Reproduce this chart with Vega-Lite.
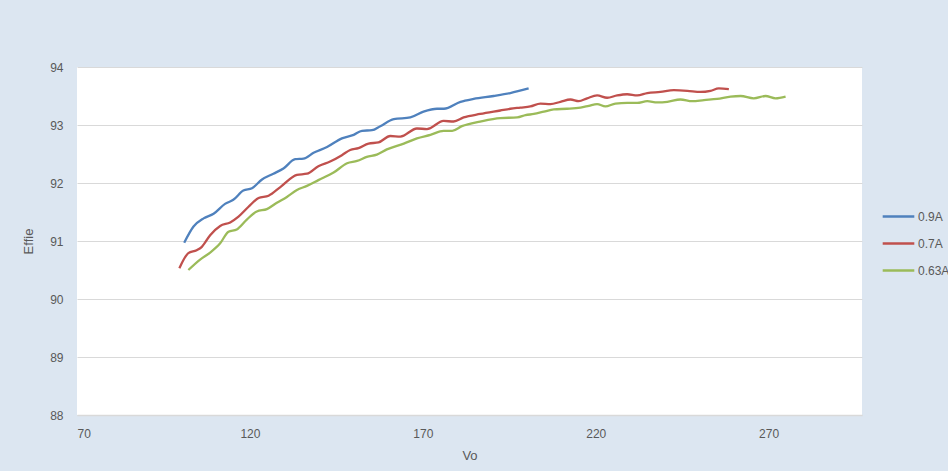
{
  "$schema": "https://vega.github.io/schema/vega-lite/v6.json",
  "width": 785,
  "height": 348,
  "autosize": "none",
  "padding": {"left": 77, "top": 67, "right": 86, "bottom": 56},
  "background": "#dce6f1",
  "view": {"fill": "white", "stroke": null},
  "config": {"font": "Liberation Sans"},
  "datasets": {
    "a09": [
      {"Vo": 101.0, "Effie": 90.97}, {"Vo": 103.7, "Effie": 91.25}, {"Vo": 106.6, "Effie": 91.39}, {"Vo": 109.5, "Effie": 91.47},
      {"Vo": 112.8, "Effie": 91.64}, {"Vo": 115.2, "Effie": 91.71}, {"Vo": 118.1, "Effie": 91.87}, {"Vo": 120.6, "Effie": 91.91},
      {"Vo": 123.5, "Effie": 92.06}, {"Vo": 126.8, "Effie": 92.16}, {"Vo": 129.7, "Effie": 92.25}, {"Vo": 133.1, "Effie": 92.41},
      {"Vo": 135.5, "Effie": 92.42}, {"Vo": 138.4, "Effie": 92.52}, {"Vo": 142.3, "Effie": 92.62}, {"Vo": 146.6, "Effie": 92.77},
      {"Vo": 150.0, "Effie": 92.83}, {"Vo": 152.4, "Effie": 92.90}, {"Vo": 155.3, "Effie": 92.91}, {"Vo": 157.7, "Effie": 92.98},
      {"Vo": 161.6, "Effie": 93.10}, {"Vo": 166.4, "Effie": 93.13}, {"Vo": 170.2, "Effie": 93.23}, {"Vo": 174.1, "Effie": 93.28},
      {"Vo": 176.1, "Effie": 93.28}, {"Vo": 180.9, "Effie": 93.40}, {"Vo": 184.7, "Effie": 93.45}, {"Vo": 190.5, "Effie": 93.50},
      {"Vo": 195.3, "Effie": 93.55}, {"Vo": 200.6, "Effie": 93.63}
    ],
    "a07": [
      {"Vo": 99.6, "Effie": 90.53}, {"Vo": 102.2, "Effie": 90.79}, {"Vo": 104.6, "Effie": 90.84}, {"Vo": 106.1, "Effie": 90.90},
      {"Vo": 108.5, "Effie": 91.10}, {"Vo": 111.4, "Effie": 91.26}, {"Vo": 114.3, "Effie": 91.32}, {"Vo": 116.7, "Effie": 91.42},
      {"Vo": 119.6, "Effie": 91.59}, {"Vo": 122.5, "Effie": 91.74}, {"Vo": 125.4, "Effie": 91.78}, {"Vo": 128.8, "Effie": 91.93},
      {"Vo": 133.6, "Effie": 92.14}, {"Vo": 136.5, "Effie": 92.16}, {"Vo": 139.8, "Effie": 92.29}, {"Vo": 143.2, "Effie": 92.37},
      {"Vo": 146.6, "Effie": 92.48}, {"Vo": 149.0, "Effie": 92.57}, {"Vo": 151.4, "Effie": 92.60}, {"Vo": 154.3, "Effie": 92.68},
      {"Vo": 157.2, "Effie": 92.70}, {"Vo": 160.6, "Effie": 92.81}, {"Vo": 163.5, "Effie": 92.80}, {"Vo": 168.3, "Effie": 92.94},
      {"Vo": 171.2, "Effie": 92.93}, {"Vo": 176.0, "Effie": 93.07}, {"Vo": 178.9, "Effie": 93.06}, {"Vo": 181.8, "Effie": 93.13},
      {"Vo": 186.6, "Effie": 93.19}, {"Vo": 192.4, "Effie": 93.25}, {"Vo": 195.3, "Effie": 93.28}, {"Vo": 198.2, "Effie": 93.30},
      {"Vo": 201.1, "Effie": 93.32}, {"Vo": 204.0, "Effie": 93.37}, {"Vo": 206.9, "Effie": 93.36}, {"Vo": 209.8, "Effie": 93.40},
      {"Vo": 212.7, "Effie": 93.44}, {"Vo": 215.1, "Effie": 93.41}, {"Vo": 217.5, "Effie": 93.46}, {"Vo": 220.4, "Effie": 93.51},
      {"Vo": 223.3, "Effie": 93.47}, {"Vo": 226.2, "Effie": 93.51}, {"Vo": 229.1, "Effie": 93.53}, {"Vo": 232.0, "Effie": 93.51},
      {"Vo": 234.9, "Effie": 93.55}, {"Vo": 238.7, "Effie": 93.57}, {"Vo": 242.6, "Effie": 93.60}, {"Vo": 246.5, "Effie": 93.59},
      {"Vo": 250.3, "Effie": 93.57}, {"Vo": 253.2, "Effie": 93.59}, {"Vo": 255.6, "Effie": 93.63}, {"Vo": 258.5, "Effie": 93.62}
    ],
    "a063": [
      {"Vo": 102.2, "Effie": 90.50}, {"Vo": 105.6, "Effie": 90.68}, {"Vo": 108.5, "Effie": 90.80}, {"Vo": 111.4, "Effie": 90.96},
      {"Vo": 113.8, "Effie": 91.16}, {"Vo": 116.2, "Effie": 91.20}, {"Vo": 119.1, "Effie": 91.37}, {"Vo": 122.0, "Effie": 91.51},
      {"Vo": 124.9, "Effie": 91.55}, {"Vo": 127.8, "Effie": 91.66}, {"Vo": 130.7, "Effie": 91.76}, {"Vo": 133.6, "Effie": 91.88},
      {"Vo": 136.5, "Effie": 91.95}, {"Vo": 139.8, "Effie": 92.05}, {"Vo": 144.2, "Effie": 92.18}, {"Vo": 148.1, "Effie": 92.34},
      {"Vo": 151.0, "Effie": 92.38}, {"Vo": 153.8, "Effie": 92.45}, {"Vo": 156.7, "Effie": 92.49}, {"Vo": 159.6, "Effie": 92.58},
      {"Vo": 164.5, "Effie": 92.68}, {"Vo": 168.3, "Effie": 92.77}, {"Vo": 172.2, "Effie": 92.83}, {"Vo": 176.0, "Effie": 92.90},
      {"Vo": 178.5, "Effie": 92.90}, {"Vo": 181.3, "Effie": 92.98}, {"Vo": 186.6, "Effie": 93.06}, {"Vo": 192.4, "Effie": 93.12},
      {"Vo": 197.3, "Effie": 93.13}, {"Vo": 199.7, "Effie": 93.17}, {"Vo": 202.1, "Effie": 93.19}, {"Vo": 205.0, "Effie": 93.23},
      {"Vo": 207.9, "Effie": 93.27}, {"Vo": 211.7, "Effie": 93.28}, {"Vo": 215.6, "Effie": 93.30}, {"Vo": 218.0, "Effie": 93.33},
      {"Vo": 220.4, "Effie": 93.36}, {"Vo": 222.8, "Effie": 93.32}, {"Vo": 225.7, "Effie": 93.37}, {"Vo": 229.1, "Effie": 93.38},
      {"Vo": 232.0, "Effie": 93.38}, {"Vo": 234.9, "Effie": 93.41}, {"Vo": 237.8, "Effie": 93.39}, {"Vo": 240.7, "Effie": 93.40},
      {"Vo": 244.5, "Effie": 93.44}, {"Vo": 247.9, "Effie": 93.41}, {"Vo": 251.3, "Effie": 93.43}, {"Vo": 255.1, "Effie": 93.45},
      {"Vo": 259.0, "Effie": 93.49}, {"Vo": 261.9, "Effie": 93.50}, {"Vo": 265.7, "Effie": 93.46}, {"Vo": 269.1, "Effie": 93.50},
      {"Vo": 272.0, "Effie": 93.46}, {"Vo": 274.9, "Effie": 93.49}
    ]
  },
  "layer": [
    {"data": {"name": "a09"}, "transform": [{"calculate": "'0.9A'", "as": "series"}], "mark": {"type": "line", "interpolate": "monotone", "strokeWidth": 2.3}, "encoding": {}},
    {"data": {"name": "a07"}, "transform": [{"calculate": "'0.7A'", "as": "series"}], "mark": {"type": "line", "interpolate": "monotone", "strokeWidth": 2.3}, "encoding": {}},
    {"data": {"name": "a063"}, "transform": [{"calculate": "'0.63A'", "as": "series"}], "mark": {"type": "line", "interpolate": "monotone", "strokeWidth": 2.3}, "encoding": {}}
  ],
  "encoding": {
    "x": {"field": "Vo", "type": "quantitative", "title": "Vo",
      "scale": {"domain": [70, 297], "nice": false, "zero": false},
      "axis": {"values": [70, 120, 170, 220, 270], "grid": false, "ticks": false, "domainColor": "#d9d9d9", "domainWidth": 1.5,
        "labelColor": "#595959", "labelFontSize": 12, "labelPadding": 13, "titleColor": "#595959", "titleFontSize": 13, "titleFontWeight": "normal", "titlePadding": 10}},
    "y": {"field": "Effie", "type": "quantitative", "title": "Effie",
      "scale": {"domain": [88, 94], "nice": false, "zero": false},
      "axis": {"values": [88, 89, 90, 91, 92, 93, 94], "grid": true, "gridColor": "#d9d9d9", "gridWidth": 1.2, "ticks": false, "domain": false,
        "labelColor": "#595959", "labelFontSize": 12, "labelPadding": 14, "titleColor": "#595959", "titleFontSize": 13, "titleFontWeight": "normal", "titlePadding": 14}},
    "color": {"field": "series", "type": "nominal", "title": null,
      "scale": {"domain": ["0.9A", "0.7A", "0.63A"], "range": ["#4f81bd", "#c0504d", "#9bbb59"]},
      "legend": {"orient": "none", "legendX": 804, "legendY": 132, "symbolType": "stroke", "symbolSize": 1000, "symbolStrokeWidth": 2.5,
        "labelColor": "#595959", "labelFontSize": 12, "rowPadding": 3, "labelOffset": 2}}
  }
}
